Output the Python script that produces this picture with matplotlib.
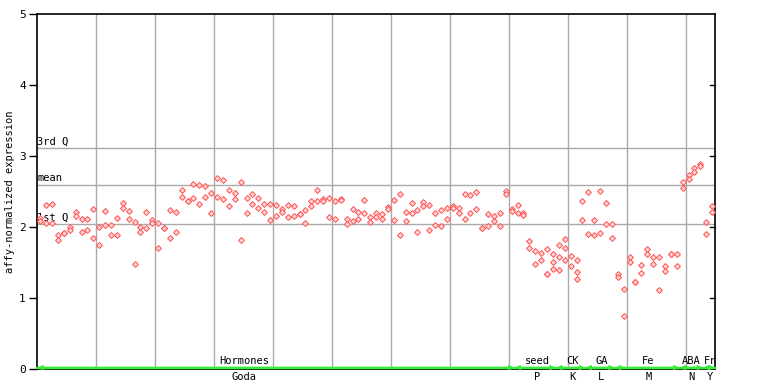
import matplotlib
matplotlib.use("Agg")
import matplotlib.pyplot as plt

# expression values per sample column (replicates share a column)
hormones = [
    [2.13, 2.08], [2.31, 2.05], [2.32, 2.06], [1.88, 1.81], [1.91, 1.91],
    [2.00, 1.96], [2.21, 2.15], [2.11, 1.93], [2.11, 1.95], [2.25, 1.84],
    [2.00, 1.74], [2.22, 2.02], [2.02, 1.89], [2.12, 1.88], [2.33, 2.26],
    [2.22, 2.11], [2.07, 1.47], [2.00, 1.93], [2.21, 1.99], [2.10, 2.05],
    [2.06, 1.70], [1.98, 1.98], [2.23, 1.84], [2.21, 1.93], [2.52, 2.42],
    [2.36, 2.36], [2.60, 2.40], [2.59, 2.32], [2.57, 2.42], [2.47, 2.19],
    [2.69, 2.42], [2.66, 2.39], [2.52, 2.29], [2.47, 2.39], [2.63, 1.81],
    [2.40, 2.19], [2.46, 2.32], [2.40, 2.26], [2.32, 2.21], [2.32, 2.10],
    [2.30, 2.15], [2.25, 2.21], [2.30, 2.14], [2.29, 2.15], [2.18, 2.18],
    [2.24, 2.05], [2.36, 2.29], [2.52, 2.36], [2.39, 2.36], [2.40, 2.14],
    [2.36, 2.11], [2.39, 2.38], [2.11, 2.04], [2.25, 2.08], [2.21, 2.11],
    [2.38, 2.19], [2.14, 2.07], [2.19, 2.14], [2.18, 2.11], [2.28, 2.25],
    [2.38, 2.09], [2.46, 1.88], [2.21, 2.08], [2.33, 2.19], [2.24, 1.93],
    [2.35, 2.29], [2.30, 1.95], [2.19, 2.02], [2.24, 2.01], [2.26, 2.11],
    [2.29, 2.26], [2.26, 2.19], [2.46, 2.11], [2.45, 2.19], [2.49, 2.25],
    [1.98, 1.98], [2.18, 2.01], [2.15, 2.08], [2.19, 2.01], [2.50, 2.46],
    [2.25, 2.22],
]
seed = [
    [2.30, 2.19], [2.19, 2.16], [1.80, 1.70], [1.66, 1.47], [1.63, 1.54],
    [1.69, 1.34, 1.34], [1.62, 1.50, 1.40],
]
ck = [
    [1.74, 1.57, 1.39], [1.83, 1.70, 1.53], [1.59, 1.45], [1.53, 1.37, 1.26],
    [2.36, 2.09],
]
ga = [[2.49, 1.90], [2.09, 1.88], [2.50, 1.91], [2.33, 2.04], [2.04, 1.84]]
fe = [
    [1.33, 1.29], [1.12, 0.75], [1.57, 1.50], [1.22, 1.22], [1.46, 1.35],
    [1.69, 1.62], [1.57, 1.47], [1.57, 1.11], [1.45, 1.38], [1.62, 1.62],
    [1.62, 1.45],
]
aba = [[2.63, 2.55], [2.73, 2.67], [2.83, 2.77], [2.88, 2.85]]
fr = [[2.07, 1.90], [2.29, 2.21]]

groups = [hormones, seed, ck, ga, fe, aba, fr]
top_labels = ["Hormones", "seed", "CK", "GA", "Fe", "ABA", "Fr"]
bottom_labels = ["Goda", "P", "K", "L", "M", "N", "Y"]
label_pos = [34.6, 84.3, 90.3, 95.2, 103.2, 110.5, 113.6]

stats = {"3rd Q": 3.11, "mean": 2.59, "1st Q": 2.04}

mono = "DejaVu Sans Mono"

fig = plt.figure(figsize=(7.68, 3.84), dpi=100)
ax = fig.add_axes([0.0482, 0.0391, 0.8832, 0.9257])

xs, ys = [], []
spans = []
k = 0
for g in groups:
    start = k
    for col in g:
        for v in col:
            xs.append(k)
            ys.append(v)
        k += 1
    spans.append((start, k - 1))
n_cols = k

ax.set_xlim(-0.55, n_cols - 0.45)
ax.set_ylim(0, 5)

for gx in range(10, n_cols, 10):
    ax.axvline(gx - 0.5, color="#aaaaaa", lw=1, zorder=1)
for name, val in stats.items():
    ax.axhline(val, color="#aaaaaa", lw=1, zorder=1)
    ax.text(-0.5, val + 0.02, name, fontsize=7.5, family=mono,
            ha="left", va="bottom", zorder=3)

ax.plot(xs, ys, "D", ms=3.0, mfc="#ffd4d4", mec="#ff5050", mew=0.7,
        ls="none", zorder=4)

# green category spans along the bottom
ax.plot([-0.5, n_cols - 0.5], [0.02, 0.02], color="#33ee33", lw=1.6,
        zorder=5, clip_on=False)
for s, e in spans:
    ax.annotate("", xy=(s - 0.4, 0.02), xytext=(e + 0.4, 0.02),
                arrowprops=dict(arrowstyle="<|-|>", color="#33ee33", lw=1.2,
                                mutation_scale=6, shrinkA=0, shrinkB=0),
                annotation_clip=False, zorder=5)
for t, b, p in zip(top_labels, bottom_labels, label_pos):
    ax.text(p, 0.04, t, fontsize=7.5, family=mono, ha="center", va="bottom")
    ax.text(p, -0.04, b, fontsize=7.5, family=mono, ha="center", va="top")

ax.set_yticks(range(6))
ax.set_yticklabels([str(i) for i in range(6)], family=mono, fontsize=8)
ax.set_xticks([])
ax.tick_params(axis="y", direction="out", length=6, width=1, pad=2)
ax.set_ylabel("affy-normalized expression", family=mono, fontsize=7.5,
              labelpad=3)

# inner ticks on the right spine
for v in range(1, 5):
    ax.plot([n_cols - 0.45 - 0.85, n_cols - 0.45], [v, v], color="black",
            lw=1, zorder=6, clip_on=False)

for sp in ax.spines.values():
    sp.set_color("black")
    sp.set_linewidth(1.2)

fig.savefig("out.png", dpi=100)
